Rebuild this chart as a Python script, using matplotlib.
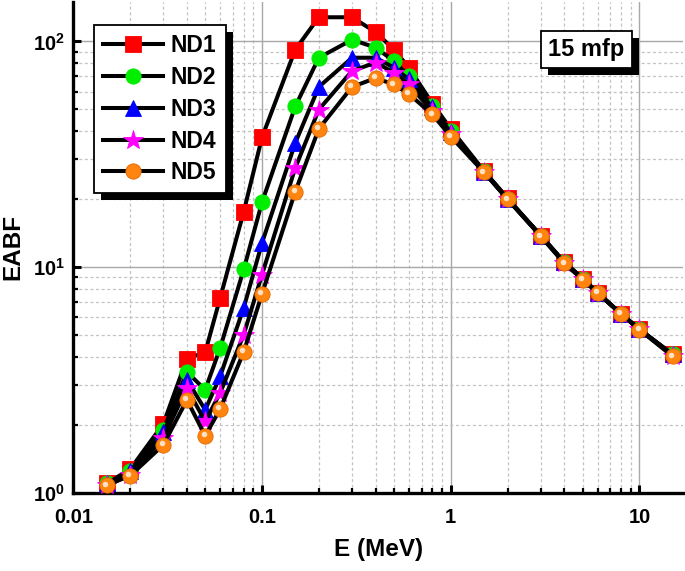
import matplotlib
matplotlib.use("Agg")
import matplotlib.pyplot as plt
import matplotlib.ticker as mticker
import matplotlib.transforms as mtransforms
from matplotlib.patches import Rectangle

plt.rcParams['font.family'] = ['Liberation Sans', 'DejaVu Sans']
plt.rcParams['font.weight'] = 'bold'
plt.rcParams['mathtext.fontset'] = 'custom'
plt.rcParams['mathtext.rm'] = 'Liberation Sans:bold'
plt.rcParams['mathtext.bf'] = 'Liberation Sans:bold'

# photon energy (MeV)
energy = [0.015, 0.02, 0.03, 0.04, 0.05, 0.06, 0.08, 0.1, 0.15, 0.2, 0.3, 0.4, 0.5,
          0.6, 0.8, 1, 1.5, 2, 3, 4, 5, 6, 8, 10, 15]

# EABF at 15 mfp for the five samples
nd1 = [1.1, 1.27, 2.02, 3.93, 4.19, 7.3, 17.6, 37.6, 92, 128, 128, 110, 92,
       76.6, 53, 41, 26.7, 20.2, 13.8, 10.5, 8.9, 7.7, 6.2, 5.3, 4.1]
nd2 = [1.1, 1.25, 1.9, 3.43, 2.86, 4.38, 9.77, 19.4, 51.5, 84.7, 101.8, 93.9, 81.9,
       70, 52, 40, 26.6, 20.1, 13.8, 10.5, 8.9, 7.7, 6.2, 5.3, 4.1]
nd3 = [1.1, 1.25, 1.85, 3.17, 2.33, 3.28, 6.6, 12.8, 35.5, 62.9, 84.7, 84.7, 76.6,
       67.9, 51, 39.5, 26.5, 20.0, 13.8, 10.5, 8.9, 7.7, 6.2, 5.3, 4.1]
nd4 = [1.08, 1.2, 1.75, 2.91, 2.07, 2.77, 5.02, 9.27, 27.5, 49.9, 74, 80.6, 72.8,
       64.5, 49, 39, 26.4, 20.0, 13.7, 10.4, 8.85, 7.7, 6.2, 5.3, 4.05]
nd5 = [1.08, 1.19, 1.63, 2.58, 1.79, 2.35, 4.21, 7.61, 21.6, 41, 62.9, 68.8, 64.5,
       58.5, 47.5, 37.9, 26.3, 20.0, 13.7, 10.4, 8.8, 7.68, 6.2, 5.28, 4.02]

labels = ['ND1', 'ND2', 'ND3', 'ND4', 'ND5']
series = [nd1, nd2, nd3, nd4, nd5]
markers = ['s', 'o', '^', '*', 'o']
colors = ['#FF0000', '#00EE00', '#0000FF', '#FF00FF', '#FF8410']
msizes = [11, 11, 12, 15, 11]

fig = plt.figure(figsize=(6.85, 5.71), dpi=100)
ax = fig.add_axes([0.107, 0.137, 0.890, 0.860])

for y, lab, m, c, ms in zip(series, labels, markers, colors, msizes):
    ax.plot(energy, y, color='black', lw=2.9, marker=m, ms=ms, mfc=c,
            mec=('#E06A00' if lab == 'ND5' else c), mew=0.6, label=lab, zorder=3)

# little highlight on the orange spheres
hl = mtransforms.offset_copy(ax.transData, fig=fig, x=-1.2, y=1.2, units='points')
ax.plot(energy, nd5, ls='none', marker='o', ms=4, mfc='#FFE2C4', mec='none',
        transform=hl, zorder=3.1)

ax.set_xscale('log')
ax.set_yscale('log')
ax.set_xlim(0.01, 17)
ax.set_ylim(1, 150)

ax.xaxis.set_major_locator(mticker.FixedLocator([0.01, 0.1, 1, 10]))
ax.xaxis.set_major_formatter(mticker.FixedFormatter(['0.01', '0.1', '1', '10']))
ax.xaxis.set_minor_locator(mticker.LogLocator(base=10, subs=range(2, 10), numticks=20))
ax.xaxis.set_minor_formatter(mticker.NullFormatter())
ax.yaxis.set_major_locator(mticker.FixedLocator([1, 10, 100]))
ax.yaxis.set_major_formatter(mticker.FixedFormatter([r'$10^{0}$', r'$10^{1}$', r'$10^{2}$']))
ax.yaxis.set_minor_locator(mticker.LogLocator(base=10, subs=range(2, 10), numticks=20))
ax.yaxis.set_minor_formatter(mticker.NullFormatter())

ax.grid(True, which='major', color='#A8A8A8', lw=1.0, ls='-', zorder=0)
ax.grid(True, which='minor', color='#C4C4C4', lw=0.9, ls=(0, (2.5, 2)), zorder=0)
ax.set_axisbelow(True)

for side in ['top', 'right']:
    ax.spines[side].set_visible(False)
for side in ['left', 'bottom']:
    ax.spines[side].set_linewidth(2.4)

ax.tick_params(which='major', direction='in', length=6, width=2.2, labelsize=14.5)
ax.tick_params(axis='x', which='major', pad=11)
ax.tick_params(axis='y', which='major', pad=6)
ax.tick_params(which='minor', direction='in', length=3.5, width=1.6)

ax.set_xlabel('E (MeV)', fontsize=17.5, fontweight='bold', labelpad=8)
ax.set_ylabel('EABF', fontsize=17.5, fontweight='bold', labelpad=6)

leg = ax.legend(loc='upper left', bbox_to_anchor=(0.034, 0.952), borderaxespad=0,
                prop={'size': 16.5, 'weight': 'bold'}, numpoints=1, handlelength=2.6,
                handletextpad=0.35, labelspacing=0.38, borderpad=0.4, fancybox=False,
                framealpha=1, edgecolor='black')
leg.get_frame().set_linewidth(1.3)
leg.set_zorder(6)

txt = ax.text(0.842, 0.902, '15 mfp', transform=ax.transAxes, ha='center', va='center',
              fontsize=17, fontweight='bold', zorder=7,
              bbox=dict(boxstyle='square,pad=0.3', fc='white', ec='black', lw=1.3))

# solid black drop shadows behind the legend and the label box
fig.canvas.draw()
renderer = fig.canvas.get_renderer()
for bb, z in [(leg.get_frame().get_window_extent(renderer), 5.9),
              (txt.get_bbox_patch().get_window_extent(renderer), 6.9)]:
    ax.add_patch(Rectangle((bb.x0 + 7, bb.y0 - 7), bb.width, bb.height,
                           transform=mtransforms.IdentityTransform(),
                           fc='black', ec='none', zorder=z, clip_on=False))

fig.savefig('out.png', dpi=100)
